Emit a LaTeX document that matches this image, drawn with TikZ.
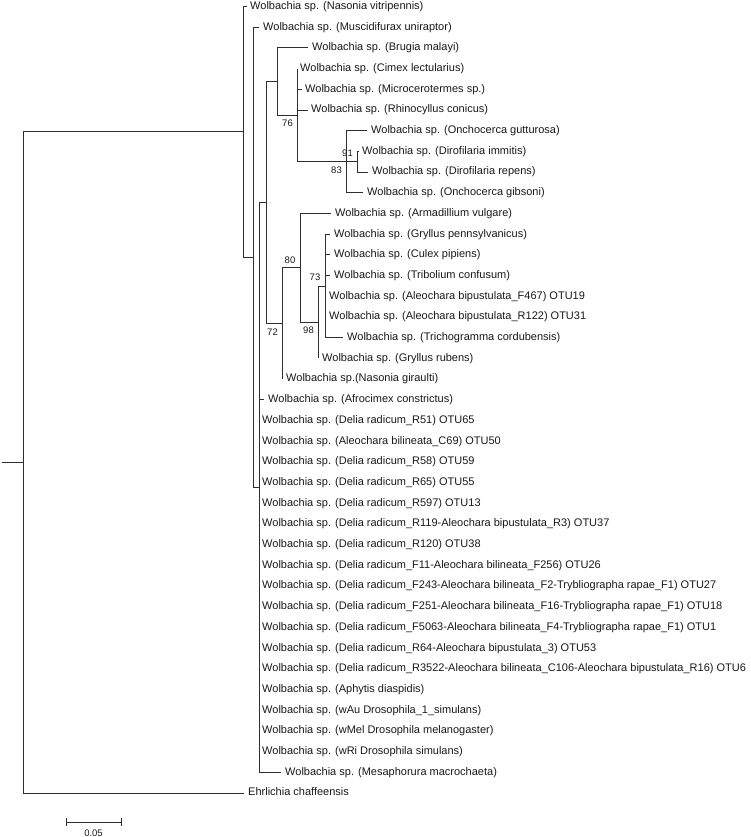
\documentclass[tikz,border=0pt]{standalone}
\usepackage{fontspec}
\setmainfont{Liberation Sans}
\usetikzlibrary{calc}
\newcommand\leafat[5]{%
  \coordinate (t#1) at (#3,{6.5+20.7*(#2-1)});
  \node[leaf] (n#1) at (#4,{6.5+20.7*(#2-1)}) {#5};}
\begin{document}
\begin{tikzpicture}[x=1pt,y=-1pt,
  branch/.style={draw=black!82, line width=0.9pt},
  leaf/.style={anchor=west, inner sep=0pt, text=black!90, font=\fontsize{11}{13}\selectfont, text height=8pt, text depth=2.3pt},
  sup/.style={inner sep=0pt, text=black!90, font=\fontsize{9.5}{11}\selectfont},
  supabove/.style={sup, anchor=base east},
  supbelow/.style={sup, anchor=base east}]
\useasboundingbox (0,0) rectangle (750,837);
% leaves
\leafat{1}{1}{247}{250}{Wolbachia sp. (Nasonia vitripennis)}
\leafat{2}{2}{259}{263}{Wolbachia sp. (Muscidifurax uniraptor)}
\leafat{3}{3}{308}{312}{Wolbachia sp. (Brugia malayi)}
\leafat{4}{4}{297}{300}{Wolbachia sp. (Cimex lectularius)}
\leafat{5}{5}{302}{305}{Wolbachia sp. (Microcerotermes sp.)}
\leafat{6}{6}{308}{311}{Wolbachia sp. (Rhinocyllus conicus)}
\leafat{7}{7}{367}{371}{Wolbachia sp. (Onchocerca gutturosa)}
\leafat{8}{8}{359}{362}{Wolbachia sp. (Dirofilaria immitis)}
\leafat{9}{9}{368}{372}{Wolbachia sp. (Dirofilaria repens)}
\leafat{10}{10}{363}{367}{Wolbachia sp. (Onchocerca gibsoni)}
\leafat{11}{11}{331}{335}{Wolbachia sp. (Armadillium vulgare)}
\leafat{12}{12}{330}{334}{Wolbachia sp. (Gryllus pennsylvanicus)}
\leafat{13}{13}{330}{334}{Wolbachia sp. (Culex pipiens)}
\leafat{14}{14}{330}{334}{Wolbachia sp. (Tribolium confusum)}
\leafat{15}{15}{325}{329}{Wolbachia sp. (Aleochara bipustulata\_F467) OTU19}
\leafat{16}{16}{325}{329}{Wolbachia sp. (Aleochara bipustulata\_R122) OTU31}
\leafat{17}{17}{343}{347}{Wolbachia sp. (Trichogramma cordubensis)}
\leafat{18}{18}{318}{322}{Wolbachia sp. (Gryllus rubens)}
\leafat{19}{19}{282}{286}{Wolbachia sp.(Nasonia giraulti)}
\leafat{20}{20}{264}{268}{Wolbachia sp. (Afrocimex constrictus)}
\leafat{21}{21}{259}{262}{Wolbachia sp. (Delia radicum\_R51) OTU65}
\leafat{22}{22}{259}{262}{Wolbachia sp. (Aleochara bilineata\_C69) OTU50}
\leafat{23}{23}{259}{262}{Wolbachia sp. (Delia radicum\_R58) OTU59}
\leafat{24}{24}{259}{262}{Wolbachia sp. (Delia radicum\_R65) OTU55}
\leafat{25}{25}{259}{262}{Wolbachia sp. (Delia radicum\_R597) OTU13}
\leafat{26}{26}{259}{262}{Wolbachia sp. (Delia radicum\_R119-Aleochara bipustulata\_R3) OTU37}
\leafat{27}{27}{259}{262}{Wolbachia sp. (Delia radicum\_R120) OTU38}
\leafat{28}{28}{259}{262}{Wolbachia sp. (Delia radicum\_F11-Aleochara bilineata\_F256) OTU26}
\leafat{29}{29}{259}{262}{Wolbachia sp. (Delia radicum\_F243-Aleochara bilineata\_F2-Trybliographa rapae\_F1) OTU27}
\leafat{30}{30}{259}{262}{Wolbachia sp. (Delia radicum\_F251-Aleochara bilineata\_F16-Trybliographa rapae\_F1) OTU18}
\leafat{31}{31}{259}{262}{Wolbachia sp. (Delia radicum\_F5063-Aleochara bilineata\_F4-Trybliographa rapae\_F1) OTU1}
\leafat{32}{32}{259}{262}{Wolbachia sp. (Delia radicum\_R64-Aleochara bipustulata\_3) OTU53}
\leafat{33}{33}{259}{262}{Wolbachia sp. (Delia radicum\_R3522-Aleochara bilineata\_C106-Aleochara bipustulata\_R16) OTU6}
\leafat{34}{34}{259}{262}{Wolbachia sp. (Aphytis diaspidis)}
\leafat{35}{35}{259}{262}{Wolbachia sp. (wAu Drosophila\_1\_simulans)}
\leafat{36}{36}{259}{262}{Wolbachia sp. (wMel Drosophila melanogaster)}
\leafat{37}{37}{259}{262}{Wolbachia sp. (wRi Drosophila simulans)}
\leafat{38}{38}{281}{285}{Wolbachia sp. (Mesaphorura macrochaeta)}
\leafat{39}{39}{244}{248}{Ehrlichia chaffeensis}
% internal nodes
\coordinate (N4) at (357,161.75);
\coordinate (N3) at (346,161.75);
\coordinate (N2) at (297,115.2);
\coordinate (N1) at (277,81.55);
\coordinate (H) at (325,285.95);
\coordinate (G) at (318,322.2);
\coordinate (F) at (300,267.85);
\coordinate (E) at (282,323.5);
\coordinate (A) at (266,202.5);
\coordinate (I) at (259,487.45);
\coordinate (J) at (253,257.3);
\coordinate (R1) at (243,131.9);
\coordinate (root) at (23,462.5);
\coordinate (stub) at (1.5,462.5);
% branches
\draw[branch] (stub) -- (root);
\draw[branch] (root) |- (R1);
\draw[branch] (root) |- (t39);
\draw[branch] (R1) |- (t1);
\draw[branch] (R1) |- (J);
\draw[branch] (J) |- (t2);
\draw[branch] (J) |- (I);
\draw[branch] (I) |- (A);
\foreach \k in {20,...,38} {\draw[branch] (I) |- (t\k);}
\draw[branch] (A) |- (N1);
\draw[branch] (A) |- (E);
\draw[branch] (N1) |- (t3);
\draw[branch] (N1) |- (N2);
\foreach \k in {4,5,6} {\draw[branch] (N2) |- (t\k);}
\draw[branch] (N2) |- (N3);
\draw[branch] (N3) |- (t7);
\draw[branch] (N3) |- (N4);
\draw[branch] (N3) |- (t10);
\draw[branch] (N4) |- (t8);
\draw[branch] (N4) |- (t9);
\draw[branch] (E) |- (F);
\draw[branch] (E) |- (t19);
\draw[branch] (F) |- (t11);
\draw[branch] (F) |- (G);
\draw[branch] (G) |- (H);
\draw[branch] (G) |- (t18);
\foreach \k in {12,...,17} {\draw[branch] (H) |- (t\k);}
% support values
\node[supbelow] (s76) at ([xshift=-4pt,yshift=-11.5pt]N2) {76};
\node[supbelow] (s83) at ([xshift=-4pt,yshift=-11.5pt]N3) {83};
\node[supabove] (s91) at ([xshift=-4pt,yshift=5pt]N4) {91};
\node[supabove] (s80) at ([xshift=-4.5pt,yshift=4.5pt]F) {80};
\node[supabove] (s73) at ([xshift=-4.5pt,yshift=5pt]H) {73};
\node[supbelow] (s72) at ([xshift=-4pt,yshift=-11.5pt]E) {72};
\node[supbelow] (s98) at ([xshift=-4pt,yshift=-11.5pt]G) {98};
% scale bar
\coordinate (sb1) at (66,822);
\coordinate (sb2) at (121,822);
\draw[branch] (sb1) -- (sb2);
\draw[branch] ([yshift=4pt]sb1) -- ([yshift=-4pt]sb1);
\draw[branch] ([yshift=4pt]sb2) -- ([yshift=-4pt]sb2);
\node[sup] (sbl) at (93.5,833) {0.05};
\end{tikzpicture}
\end{document}
